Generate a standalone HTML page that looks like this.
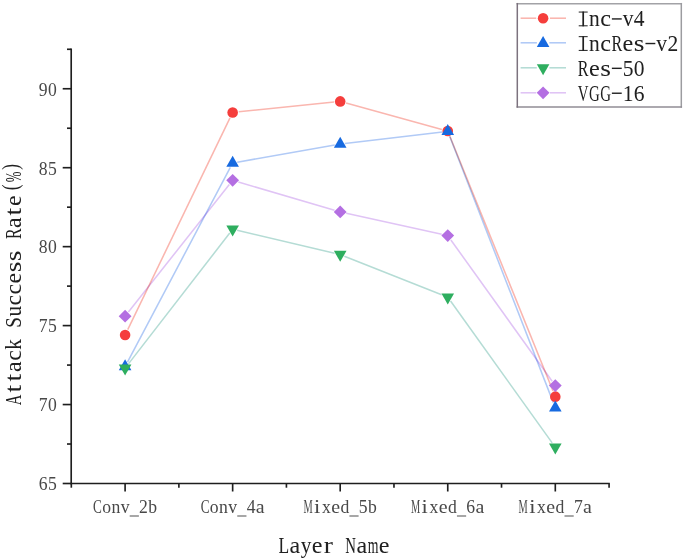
<!DOCTYPE html>
<html><head><meta charset="utf-8"><title>Attack Success Rate by Layer</title>
<style>
html,body{margin:0;padding:0;background:#fff;}
body{width:685px;height:559px;overflow:hidden;font-family:"Liberation Serif",serif;}
svg{display:block;}
</style></head><body>
<svg width="685" height="559" viewBox="0 0 685 559">
<rect width="685" height="559" fill="#ffffff"/>
<g fill="none" stroke-width="1.55" stroke-linecap="butt">
<line x1="127.75" y1="329.58" x2="230.00" y2="117.93" stroke="#FAB6AF" style="mix-blend-mode:multiply"/>
<line x1="238.72" y1="111.81" x2="334.13" y2="102.01" stroke="#FAB6AF" style="mix-blend-mode:multiply"/>
<line x1="346.08" y1="103.00" x2="441.87" y2="129.44" stroke="#FAB6AF" style="mix-blend-mode:multiply"/>
<line x1="450.04" y1="136.72" x2="553.01" y2="391.00" stroke="#FAB6AF" style="mix-blend-mode:multiply"/>
<line x1="127.48" y1="362.15" x2="230.32" y2="167.37" stroke="#B1CAF6" style="mix-blend-mode:multiply"/>
<line x1="237.24" y1="162.16" x2="334.76" y2="144.97" stroke="#B1CAF6" style="mix-blend-mode:multiply"/>
<line x1="344.91" y1="143.46" x2="442.47" y2="132.00" stroke="#B1CAF6" style="mix-blend-mode:multiply"/>
<line x1="449.48" y1="135.83" x2="553.32" y2="402.62" stroke="#B1CAF6" style="mix-blend-mode:multiply"/>
<line x1="128.45" y1="363.90" x2="229.76" y2="233.02" stroke="#B5DCD5" style="mix-blend-mode:multiply"/>
<line x1="237.11" y1="230.33" x2="334.59" y2="253.23" stroke="#B5DCD5" style="mix-blend-mode:multiply"/>
<line x1="344.35" y1="256.19" x2="441.60" y2="294.74" stroke="#B5DCD5" style="mix-blend-mode:multiply"/>
<line x1="450.54" y1="301.07" x2="552.18" y2="442.83" stroke="#B5DCD5" style="mix-blend-mode:multiply"/>
<line x1="128.43" y1="311.93" x2="229.32" y2="184.53" stroke="#E0C4F5" style="mix-blend-mode:multiply"/>
<line x1="238.36" y1="182.01" x2="334.49" y2="210.23" stroke="#E0C4F5" style="mix-blend-mode:multiply"/>
<line x1="346.23" y1="213.24" x2="441.72" y2="234.27" stroke="#E0C4F5" style="mix-blend-mode:multiply"/>
<line x1="450.89" y1="239.97" x2="552.16" y2="381.22" stroke="#E0C4F5" style="mix-blend-mode:multiply"/>
</g>
<circle cx="125.10" cy="335.07" r="5.3" fill="#F53E3C"/>
<circle cx="232.65" cy="112.44" r="5.3" fill="#F53E3C"/>
<circle cx="340.20" cy="101.38" r="5.3" fill="#F53E3C"/>
<circle cx="447.75" cy="131.07" r="5.3" fill="#F53E3C"/>
<circle cx="555.30" cy="396.65" r="5.3" fill="#F53E3C"/>
<polygon points="125.10,359.35 131.40,370.35 118.80,370.35" fill="#176AE0"/>
<polygon points="232.65,155.66 238.95,166.66 226.35,166.66" fill="#176AE0"/>
<polygon points="340.20,136.72 346.50,147.72 333.90,147.72" fill="#176AE0"/>
<polygon points="447.75,124.08 454.05,135.08 441.45,135.08" fill="#176AE0"/>
<polygon points="555.30,400.41 561.60,411.41 549.00,411.41" fill="#176AE0"/>
<polygon points="125.10,375.53 131.40,364.53 118.80,364.53" fill="#2EAE5F"/>
<polygon points="232.65,236.58 238.95,225.58 226.35,225.58" fill="#2EAE5F"/>
<polygon points="340.20,261.85 346.50,250.85 333.90,250.85" fill="#2EAE5F"/>
<polygon points="447.75,304.48 454.05,293.48 441.45,293.48" fill="#2EAE5F"/>
<polygon points="555.30,454.48 561.60,443.48 549.00,443.48" fill="#2EAE5F"/>
<polygon points="125.10,309.73 131.50,316.13 125.10,322.53 118.70,316.13" fill="#B46FE2"/>
<polygon points="232.65,173.93 239.05,180.33 232.65,186.73 226.25,180.33" fill="#B46FE2"/>
<polygon points="340.20,205.51 346.60,211.91 340.20,218.31 333.80,211.91" fill="#B46FE2"/>
<polygon points="447.75,229.20 454.15,235.60 447.75,242.00 441.35,235.60" fill="#B46FE2"/>
<polygon points="555.30,379.20 561.70,385.60 555.30,392.00 548.90,385.60" fill="#B46FE2"/>
<g stroke="#1e1e1e" stroke-width="1.65" fill="none" stroke-linecap="butt">
<line x1="71.2" y1="48.53" x2="71.2" y2="484.25"/>
<line x1="70.45" y1="483.5" x2="609.82" y2="483.5"/>
<line x1="62.70" y1="483.50" x2="71.2" y2="483.50"/>
<line x1="67.00" y1="444.02" x2="71.2" y2="444.02"/>
<line x1="62.70" y1="404.55" x2="71.2" y2="404.55"/>
<line x1="67.00" y1="365.07" x2="71.2" y2="365.07"/>
<line x1="62.70" y1="325.60" x2="71.2" y2="325.60"/>
<line x1="67.00" y1="286.12" x2="71.2" y2="286.12"/>
<line x1="62.70" y1="246.65" x2="71.2" y2="246.65"/>
<line x1="67.00" y1="207.18" x2="71.2" y2="207.18"/>
<line x1="62.70" y1="167.70" x2="71.2" y2="167.70"/>
<line x1="67.00" y1="128.23" x2="71.2" y2="128.23"/>
<line x1="62.70" y1="88.75" x2="71.2" y2="88.75"/>
<line x1="67.00" y1="49.28" x2="71.2" y2="49.28"/>
<line x1="71.32" y1="483.5" x2="71.32" y2="487.70"/>
<line x1="125.10" y1="483.5" x2="125.10" y2="491.50"/>
<line x1="178.88" y1="483.5" x2="178.88" y2="487.70"/>
<line x1="232.65" y1="483.5" x2="232.65" y2="491.50"/>
<line x1="286.42" y1="483.5" x2="286.42" y2="487.70"/>
<line x1="340.20" y1="483.5" x2="340.20" y2="491.50"/>
<line x1="393.97" y1="483.5" x2="393.97" y2="487.70"/>
<line x1="447.75" y1="483.5" x2="447.75" y2="491.50"/>
<line x1="501.52" y1="483.5" x2="501.52" y2="487.70"/>
<line x1="555.30" y1="483.5" x2="555.30" y2="491.50"/>
<line x1="609.08" y1="483.5" x2="609.08" y2="487.70"/>
</g>
<g font-family="Liberation Serif" font-size="18.5" fill="#484848" text-anchor="middle" style="filter:grayscale(1)"><text transform="translate(43.10,490.30) scale(0.955,1)">6</text><text transform="translate(52.30,490.30) scale(0.955,1)">5</text></g>
<g font-family="Liberation Serif" font-size="18.5" fill="#484848" text-anchor="middle" style="filter:grayscale(1)"><text transform="translate(43.10,411.35) scale(0.955,1)">7</text><text transform="translate(52.30,411.35) scale(0.955,1)">0</text></g>
<g font-family="Liberation Serif" font-size="18.5" fill="#484848" text-anchor="middle" style="filter:grayscale(1)"><text transform="translate(43.10,332.40) scale(0.955,1)">7</text><text transform="translate(52.30,332.40) scale(0.955,1)">5</text></g>
<g font-family="Liberation Serif" font-size="18.5" fill="#484848" text-anchor="middle" style="filter:grayscale(1)"><text transform="translate(43.10,253.45) scale(0.955,1)">8</text><text transform="translate(52.30,253.45) scale(0.955,1)">0</text></g>
<g font-family="Liberation Serif" font-size="18.5" fill="#484848" text-anchor="middle" style="filter:grayscale(1)"><text transform="translate(43.10,174.50) scale(0.955,1)">8</text><text transform="translate(52.30,174.50) scale(0.955,1)">5</text></g>
<g font-family="Liberation Serif" font-size="18.5" fill="#484848" text-anchor="middle" style="filter:grayscale(1)"><text transform="translate(43.10,95.55) scale(0.955,1)">9</text><text transform="translate(52.30,95.55) scale(0.955,1)">0</text></g>
<g font-family="Liberation Serif" font-size="18.5" fill="#484848" text-anchor="middle" style="filter:grayscale(1)"><text transform="translate(97.50,513.40) scale(0.716,1)">C</text><text transform="translate(106.70,513.40) scale(0.955,1)">o</text><text transform="translate(115.90,513.40) scale(0.955,1)">n</text><text transform="translate(125.10,513.40) scale(0.955,1)">v</text><rect x="129.70" y="515.40" width="9.20" height="1.2" opacity="0.8"/><text transform="translate(143.50,513.40) scale(0.955,1)">2</text><text transform="translate(152.70,513.40) scale(0.955,1)">b</text></g>
<g font-family="Liberation Serif" font-size="18.5" fill="#484848" text-anchor="middle" style="filter:grayscale(1)"><text transform="translate(205.05,513.40) scale(0.716,1)">C</text><text transform="translate(214.25,513.40) scale(0.955,1)">o</text><text transform="translate(223.45,513.40) scale(0.955,1)">n</text><text transform="translate(232.65,513.40) scale(0.955,1)">v</text><rect x="237.25" y="515.40" width="9.20" height="1.2" opacity="0.8"/><text transform="translate(251.05,513.40) scale(0.955,1)">4</text><text transform="translate(260.25,513.40) scale(1.076,1)">a</text></g>
<g font-family="Liberation Serif" font-size="18.5" fill="#484848" text-anchor="middle" style="filter:grayscale(1)"><text transform="translate(308.00,513.40) scale(0.560,1)">M</text><text transform="translate(317.20,513.40) scale(1.220,1)">i</text><text transform="translate(326.40,513.40) scale(0.955,1)">x</text><text transform="translate(335.60,513.40) scale(1.076,1)">e</text><text transform="translate(344.80,513.40) scale(0.955,1)">d</text><rect x="349.40" y="515.40" width="9.20" height="1.2" opacity="0.8"/><text transform="translate(363.20,513.40) scale(0.955,1)">5</text><text transform="translate(372.40,513.40) scale(0.955,1)">b</text></g>
<g font-family="Liberation Serif" font-size="18.5" fill="#484848" text-anchor="middle" style="filter:grayscale(1)"><text transform="translate(415.55,513.40) scale(0.560,1)">M</text><text transform="translate(424.75,513.40) scale(1.220,1)">i</text><text transform="translate(433.95,513.40) scale(0.955,1)">x</text><text transform="translate(443.15,513.40) scale(1.076,1)">e</text><text transform="translate(452.35,513.40) scale(0.955,1)">d</text><rect x="456.95" y="515.40" width="9.20" height="1.2" opacity="0.8"/><text transform="translate(470.75,513.40) scale(0.955,1)">6</text><text transform="translate(479.95,513.40) scale(1.076,1)">a</text></g>
<g font-family="Liberation Serif" font-size="18.5" fill="#484848" text-anchor="middle" style="filter:grayscale(1)"><text transform="translate(523.10,513.40) scale(0.560,1)">M</text><text transform="translate(532.30,513.40) scale(1.220,1)">i</text><text transform="translate(541.50,513.40) scale(0.955,1)">x</text><text transform="translate(550.70,513.40) scale(1.076,1)">e</text><text transform="translate(559.90,513.40) scale(0.955,1)">d</text><rect x="564.50" y="515.40" width="9.20" height="1.2" opacity="0.8"/><text transform="translate(578.30,513.40) scale(0.955,1)">7</text><text transform="translate(587.50,513.40) scale(1.076,1)">a</text></g>
<g font-family="Liberation Serif" font-size="22.5" fill="#202020" text-anchor="middle" style="filter:grayscale(1)"><text transform="translate(283.77,552.80) scale(0.779,1)">L</text><text transform="translate(294.93,552.80) scale(1.072,1)">a</text><text transform="translate(306.07,552.80) scale(0.951,1)">y</text><text transform="translate(317.22,552.80) scale(1.072,1)">e</text><text transform="translate(328.38,552.80) scale(1.220,1)">r</text><text transform="translate(350.68,552.80) scale(0.659,1)">N</text><text transform="translate(361.82,552.80) scale(1.072,1)">a</text><text transform="translate(372.98,552.80) scale(0.612,1)">m</text><text transform="translate(384.12,552.80) scale(1.072,1)">e</text></g>
<g transform="translate(20.6,283.6) rotate(-90)"><g font-family="Liberation Serif" font-size="22.5" fill="#202020" text-anchor="middle" style="filter:grayscale(1)"><text transform="translate(-116.24,0.00) scale(0.654,1)">A</text><text transform="translate(-105.17,0.00) scale(1.220,1)">t</text><text transform="translate(-94.10,0.00) scale(1.220,1)">t</text><text transform="translate(-83.03,0.00) scale(1.064,1)">a</text><text transform="translate(-71.96,0.00) scale(1.064,1)">c</text><text transform="translate(-60.89,0.00) scale(0.945,1)">k</text><text transform="translate(-38.75,0.00) scale(0.849,1)">S</text><text transform="translate(-27.68,0.00) scale(0.945,1)">u</text><text transform="translate(-16.61,0.00) scale(1.064,1)">c</text><text transform="translate(-5.54,0.00) scale(1.064,1)">c</text><text transform="translate(5.53,0.00) scale(1.064,1)">e</text><text transform="translate(16.60,0.00) scale(1.214,1)">s</text><text transform="translate(27.67,0.00) scale(1.214,1)">s</text><text transform="translate(49.81,0.00) scale(0.708,1)">R</text><text transform="translate(60.88,0.00) scale(1.064,1)">a</text><text transform="translate(71.95,0.00) scale(1.220,1)">t</text><text transform="translate(83.03,0.00) scale(1.064,1)">e</text><text transform="translate(96.19,-2.40) scale(0.780,1)">(</text><text transform="translate(106.76,0.00) scale(0.567,1)">%</text><text transform="translate(116.73,-2.40) scale(0.780,1)">)</text></g></g>
<rect x="517.3" y="3.7" width="164.00" height="103.20" fill="#ffffff"/>
<g stroke-width="1.5" stroke-linecap="square" fill="none">
<line x1="517.3" y1="3.7" x2="681.3" y2="3.7" stroke="#a2a2a6"/>
<line x1="681.3" y1="3.7" x2="681.3" y2="106.9" stroke="#9c9ca0"/>
<line x1="517.3" y1="106.9" x2="681.3" y2="106.9" stroke="#908c94"/>
<line x1="517.3" y1="3.7" x2="517.3" y2="106.9" stroke="#7c727e"/>
</g>
<line x1="520.6" y1="18.2" x2="536.20" y2="18.2" stroke="#FAB6AF" stroke-width="1.55"/>
<line x1="550.00" y1="18.2" x2="566" y2="18.2" stroke="#FAB6AF" stroke-width="1.55"/>
<circle cx="543.10" cy="18.20" r="5.3" fill="#F53E3C"/>
<g font-family="Liberation Serif" font-size="22.5" fill="#202020" text-anchor="middle" style="filter:grayscale(1)"><rect x="582.35" y="11.56" width="1.7" height="14.74"/><rect x="578.72" y="11.56" width="8.96" height="1.0"/><rect x="578.72" y="25.30" width="8.96" height="1.0"/><text transform="translate(594.40,26.30) scale(0.956,1)">n</text><text transform="translate(605.60,26.30) scale(1.077,1)">c</text><rect x="611.87" y="18.23" width="9.86" height="1.4"/><text transform="translate(628.00,26.30) scale(0.956,1)">v</text><text transform="translate(639.20,26.30) scale(0.956,1)">4</text></g>
<line x1="520.6" y1="42.8" x2="536.90" y2="42.8" stroke="#B1CAF6" stroke-width="1.55"/>
<line x1="549.30" y1="42.8" x2="566" y2="42.8" stroke="#B1CAF6" stroke-width="1.55"/>
<polygon points="543.10,36.10 549.40,47.10 536.80,47.10" fill="#176AE0"/>
<g font-family="Liberation Serif" font-size="22.5" fill="#202020" text-anchor="middle" style="filter:grayscale(1)"><rect x="582.35" y="36.16" width="1.7" height="14.74"/><rect x="578.72" y="36.16" width="8.96" height="1.0"/><rect x="578.72" y="49.90" width="8.96" height="1.0"/><text transform="translate(594.40,50.90) scale(0.956,1)">n</text><text transform="translate(605.60,50.90) scale(1.077,1)">c</text><text transform="translate(616.80,50.90) scale(0.716,1)">R</text><text transform="translate(628.00,50.90) scale(1.077,1)">e</text><text transform="translate(639.20,50.90) scale(1.220,1)">s</text><rect x="645.47" y="42.83" width="9.86" height="1.4"/><text transform="translate(661.60,50.90) scale(0.956,1)">v</text><text transform="translate(672.80,50.90) scale(0.956,1)">2</text></g>
<line x1="520.6" y1="67.8" x2="536.80" y2="67.8" stroke="#B5DCD5" stroke-width="1.55"/>
<line x1="549.40" y1="67.8" x2="566" y2="67.8" stroke="#B5DCD5" stroke-width="1.55"/>
<polygon points="543.10,75.30 549.40,64.30 536.80,64.30" fill="#2EAE5F"/>
<g font-family="Liberation Serif" font-size="22.5" fill="#202020" text-anchor="middle" style="filter:grayscale(1)"><text transform="translate(583.20,75.70) scale(0.716,1)">R</text><text transform="translate(594.40,75.70) scale(1.077,1)">e</text><text transform="translate(605.60,75.70) scale(1.220,1)">s</text><rect x="611.87" y="67.63" width="9.86" height="1.4"/><text transform="translate(628.00,75.70) scale(0.956,1)">5</text><text transform="translate(639.20,75.70) scale(0.956,1)">0</text></g>
<line x1="520.6" y1="92.8" x2="536.20" y2="92.8" stroke="#E0C4F5" stroke-width="1.55"/>
<line x1="550.00" y1="92.8" x2="566" y2="92.8" stroke="#E0C4F5" stroke-width="1.55"/>
<polygon points="543.10,86.40 549.50,92.80 543.10,99.20 536.70,92.80" fill="#B46FE2"/>
<g font-family="Liberation Serif" font-size="22.5" fill="#202020" text-anchor="middle" style="filter:grayscale(1)"><text transform="translate(583.20,100.60) scale(0.662,1)">V</text><text transform="translate(594.40,100.60) scale(0.662,1)">G</text><text transform="translate(605.60,100.60) scale(0.662,1)">G</text><rect x="611.87" y="92.53" width="9.86" height="1.4"/><text transform="translate(628.00,100.60) scale(0.956,1)">1</text><text transform="translate(639.20,100.60) scale(0.956,1)">6</text></g>
</svg>
</body></html>
